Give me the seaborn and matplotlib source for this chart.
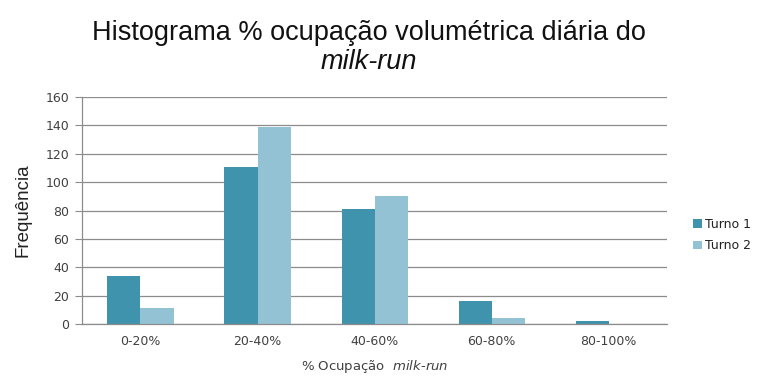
import matplotlib
matplotlib.use("Agg")
import matplotlib.pyplot as plt
import pandas as pd
import seaborn as sns
from matplotlib.ticker import FixedLocator

categories = ["0-20%", "20-40%", "40-60%", "60-80%", "80-100%"]
turno_1 = [34, 111, 81, 16, 2]
turno_2 = [11, 139, 90, 4, 0]
series_names = ["Turno 1", "Turno 2"]
colors = ["#3F93AD", "#93C2D5"]

df = pd.DataFrame({
    "faixa": categories * 2,
    "freq": turno_1 + turno_2,
    "turno": [series_names[0]] * len(categories) + [series_names[1]] * len(categories),
})

sns.set_style("white")
plt.rcParams["font.family"] = ["DejaVu Sans"]
plt.rcParams["mathtext.fontset"] = "custom"
plt.rcParams["mathtext.it"] = "DejaVu Sans:italic"
plt.rcParams["mathtext.rm"] = "DejaVu Sans"
narrow = ["Liberation Sans", "DejaVu Sans"]

fig = plt.figure(figsize=(7.66, 3.76), dpi=100)
ax = fig.add_axes([0.107, 0.138, 0.764, 0.604])

sns.barplot(data=df, x="faixa", y="freq", hue="turno", order=categories,
            hue_order=series_names, palette=colors, width=0.565,
            saturation=1, linewidth=0, edgecolor="none", ax=ax, legend=True)

ax.set_ylim(0, 160)
ax.set_yticks(range(0, 161, 20))
ax.set_xlim(-0.5, len(categories) - 0.5)
ax.yaxis.grid(True, color="#8c8c8c", linewidth=0.9)
ax.set_axisbelow(True)
for side in ["top", "right"]:
    ax.spines[side].set_visible(False)
for side in ["left", "bottom"]:
    ax.spines[side].set_color("#8c8c8c")
    ax.spines[side].set_linewidth(0.9)

ax.tick_params(axis="x", which="major", length=0, pad=8, labelsize=9, labelcolor="#404040")
ax.xaxis.set_minor_locator(FixedLocator([i - 0.5 for i in range(len(categories) + 1)]))
ax.tick_params(axis="x", which="minor", length=5, direction="out", color="#8c8c8c")
ax.tick_params(axis="y", length=5, direction="out", color="#8c8c8c", left=True,
               labelsize=9, labelcolor="#404040", pad=4)

ax.set_ylabel("Frequência", fontsize=13.5, color="#222222", labelpad=10, family=narrow)
ax.set_xlabel(r"% Ocupação  $\mathit{milk}$-$\mathit{run}$", fontsize=9.5,
              color="#404040", labelpad=7)

fig.text(0.482, 0.912, "Histograma % ocupação volumétrica diária do",
         ha="center", va="center", fontsize=19.5, color="#111111", family=narrow)
fig.text(0.482, 0.835, "milk-run", style="italic",
         ha="center", va="center", fontsize=19.5, color="#111111", family=narrow)

handles, labels = ax.get_legend_handles_labels()
ax.get_legend().remove()
fig.legend(handles, labels, loc="center left", bbox_to_anchor=(0.89, 0.375),
           frameon=False, fontsize=9, handlelength=0.7, handleheight=0.7,
           handletextpad=0.3, labelspacing=0.7, labelcolor="#222222")

fig.savefig("out.png", dpi=100)
